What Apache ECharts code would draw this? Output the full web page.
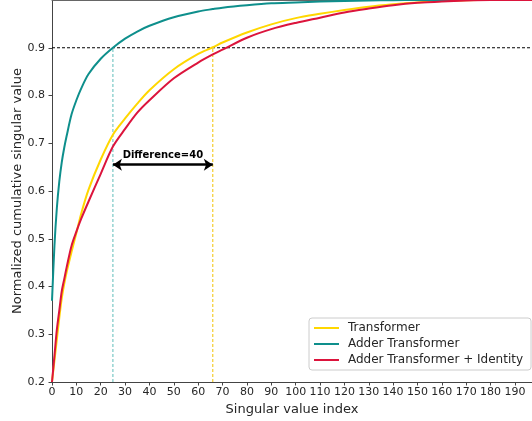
<!DOCTYPE html>
<html>
<head>
<meta charset="utf-8">
<script src="https://cdn.jsdelivr.net/npm/echarts@6/dist/echarts.min.js"></script>
<style>html,body{margin:0;padding:0;background:#fff}#c{width:532px;height:421px}</style>
</head>
<body>
<div id="c"></div>
<script>
const seriesNames = ['Transformer', 'Adder Transformer', 'Adder Transformer + Identity'];
const xIndex = [0, 1, 2, 3, 4, 5, 6, 8, 10, 12, 15, 20, 25, 30, 35, 40, 50, 60, 66, 70, 80, 90, 100, 110, 120, 130, 140, 150, 160, 170, 180, 190, 197];
const transformer = [0.20, 0.245, 0.29, 0.335, 0.375, 0.405, 0.43, 0.472, 0.512, 0.553, 0.603, 0.666, 0.718, 0.752, 0.783, 0.811, 0.855, 0.887, 0.901, 0.911, 0.932, 0.949, 0.962, 0.971, 0.979, 0.986, 0.991, 0.995, 0.998, 0.9995, 1.0, 1.0, 1.0];
const adderTransformer = [0.37, 0.485, 0.565, 0.62, 0.66, 0.69, 0.715, 0.76, 0.79, 0.815, 0.845, 0.877, 0.900, 0.919, 0.934, 0.946, 0.964, 0.976, 0.981, 0.984, 0.989, 0.993, 0.995, 0.997, 0.998, 0.999, 0.9995, 1.0, 1.0, 1.0, 1.0, 1.0, 1.0];
const adderIdentity = [0.20, 0.255, 0.31, 0.35, 0.39, 0.415, 0.44, 0.485, 0.515, 0.542, 0.578, 0.636, 0.693, 0.730, 0.764, 0.790, 0.836, 0.869, 0.886, 0.896, 0.921, 0.939, 0.952, 0.963, 0.974, 0.982, 0.989, 0.994, 0.997, 0.999, 1.0, 1.0, 1.0];
const threshold = 0.9;
const adderCross = 25;
const transformerCross = 66;
const arrowLevel = 0.655;
const annotationText = 'Difference=40';
const xMin = 0, xMax = 197, yMin = 0.2, yMax = 1.0;
const xTickInterval = 10;
const yTickInterval = 0.1;

const colors = ['#FFD700', '#0E8F8C', '#DC143C'];
const pair = arr => xIndex.map((x, i) => [x, arr[i]]);
const font = 'DejaVu Sans';
const lineIcon = 'path://M0,0L25,0L25,2L0,2Z';

const guide = (data, color) => ({
  type: 'line', data, symbol: 'none', silent: true, z: 2,
  lineStyle: {color, width: 1, type: [3, 2]}, itemStyle: {color}
});

const chart = echarts.init(document.getElementById('c'), null, {renderer: 'canvas'});
chart.setOption({
  animation: false,
  backgroundColor: '#fff',
  grid: {left: 52, right: 0, top: 0, bottom: 39, containLabel: false, outerBoundsMode: 'none'},
  legend: {
    data: seriesNames.map(n => ({name: n, icon: lineIcon})),
    orient: 'vertical',
    left: 309, top: 318,
    itemWidth: 25, itemHeight: 14, itemGap: 4,
    padding: [4, 8, 4, 5],
    borderColor: '#cccccc', borderWidth: 1, borderRadius: 3,
    backgroundColor: 'rgba(255,255,255,0.85)',
    textStyle: {fontFamily: font, fontSize: 12, color: '#262626', padding: [0, 0, 0, 4]}
  },
  xAxis: [{
    type: 'value', min: xMin, max: xMax, interval: xTickInterval,
    name: 'Singular value index', nameLocation: 'middle', nameGap: 19,
    nameTextStyle: {fontFamily: font, fontSize: 13, color: '#262626'},
    axisLine: {show: true, lineStyle: {color: '#444', width: 1}},
    axisTick: {show: true, length: 3.5, inside: false, lineStyle: {color: '#444'}},
    axisLabel: {fontFamily: font, fontSize: 11, color: '#262626', margin: 5, showMaxLabel: false},
    splitLine: {show: false}
  }, {
    type: 'value', position: 'top', min: xMin, max: xMax,
    axisLine: {show: true, onZero: false, lineStyle: {color: '#666', width: 1}},
    axisTick: {show: false}, axisLabel: {show: false}, splitLine: {show: false}
  }],
  yAxis: {
    type: 'value', min: yMin, max: yMax, interval: yTickInterval,
    name: 'Normalized cumulative singular value', nameLocation: 'middle', nameGap: 28,
    nameMoveOverlap: false,
    nameTextStyle: {fontFamily: font, fontSize: 13, color: '#262626'},
    axisLine: {show: true, lineStyle: {color: '#444', width: 1}},
    axisTick: {show: true, length: 3.5, lineStyle: {color: '#444'}},
    axisLabel: {fontFamily: font, fontSize: 11, color: '#262626', margin: 7, showMaxLabel: false,
      formatter: v => v.toFixed(1)},
    splitLine: {show: false}
  },
  series: [
    guide([[transformerCross, yMin], [transformerCross, threshold]], '#F2C200'),
    guide([[adderCross, yMin], [adderCross, threshold]], '#5FBDBA'),
    guide([[xMin, threshold], [xMax, threshold]], '#000000'),
    {
      name: seriesNames[0], type: 'line', data: pair(transformer), symbol: 'none',
      smooth: 0.3, color: colors[0], lineStyle: {width: 2, color: colors[0]}, z: 3
    },
    {
      name: seriesNames[1], type: 'line', data: pair(adderTransformer), symbol: 'none',
      smooth: 0.3, color: colors[1], lineStyle: {width: 2, color: colors[1]}, z: 3
    },
    {
      name: seriesNames[2], type: 'line', data: pair(adderIdentity), symbol: 'none',
      smooth: 0.3, color: colors[2], lineStyle: {width: 2, color: colors[2]}, z: 4
    },
    {
      name: 'annotation', type: 'line', data: [], symbol: 'none', z: 5,
      markLine: {
        silent: true, animation: false, symbol: ['arrow', 'arrow'], symbolSize: [9, 9],
        lineStyle: {color: '#000', type: 'solid', width: 2.5},
        itemStyle: {color: '#000'},
        label: {show: true, position: 'insideMiddleTop', formatter: annotationText,
          fontFamily: font, fontSize: 10, fontWeight: 'bold', color: '#000', distance: 4},
        data: [[{coord: [adderCross, arrowLevel]}, {coord: [transformerCross, arrowLevel]}]]
      }
    }
  ]
});
</script>
</body>
</html>
